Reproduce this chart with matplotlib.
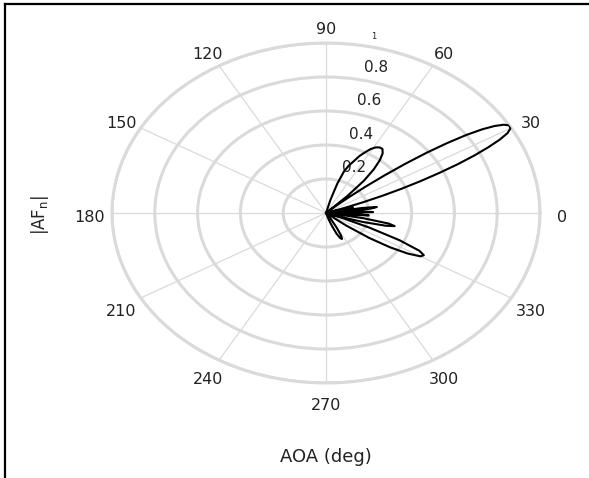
import numpy as np
import matplotlib
matplotlib.use("Agg")
import matplotlib.pyplot as plt
from matplotlib.lines import Line2D

# ---- data ----
theta_deg = [-180, -90, -76, -72, -70, -68, -66, -64, -62, -60, -58, -56, -53,
             -40, -38, -36, -34, -32, -30, -28.5, -27, -25, -23, -21, -20,
             -19, -17, -15, -13.5, -12, -10, -8, -7,
             -6, -4, -2, -1,
             0, 1.5, 3, 4,
             5.5, 7, 8.5, 10, 11.5,
             13, 14.5, 16, 17,
             18, 19, 20, 21, 22, 23, 24, 25, 26, 27, 28, 29, 30, 31, 32, 33,
             34, 35, 36, 37, 38, 39, 40, 41, 42, 43,
             45, 47, 49, 51, 53, 55, 57, 59, 61, 63, 65, 67, 69, 71, 73, 75, 76.5,
             90, 180]
af_mag = [0.0, 0.0, 0.0, 0.04, 0.08, 0.13, 0.16, 0.17, 0.15, 0.10, 0.05, 0.02, 0.0,
          0.0, 0.12, 0.25, 0.36, 0.45, 0.51, 0.52, 0.49, 0.38, 0.22, 0.08, 0.0,
          0.05, 0.18, 0.29, 0.33, 0.30, 0.18, 0.05, 0.0,
          0.10, 0.20, 0.12, 0.0,
          0.12, 0.22, 0.15, 0.0,
          0.14, 0.21, 0.24, 0.17, 0.0,
          0.10, 0.13, 0.05, 0.0,
          0.0, 0.09, 0.18, 0.28, 0.38, 0.48, 0.58, 0.68, 0.77, 0.85, 0.92, 0.97, 0.995, 1.0, 0.98, 0.94,
          0.88, 0.80, 0.70, 0.59, 0.47, 0.35, 0.24, 0.14, 0.06, 0.0,
          0.14, 0.26, 0.34, 0.40, 0.44, 0.46, 0.46, 0.45, 0.43, 0.40, 0.37, 0.33, 0.30, 0.26, 0.18, 0.08, 0.0,
          0.0, 0.0]

theta_ticks = list(range(0, 360, 30))
r_ticks = [0.2, 0.4, 0.6, 0.8, 1.0]
r_tick_labels = ["0.2", "0.4", "0.6", "0.8", "1"]

# ---- figure ----
W, H = 589, 478
fig = plt.figure(figsize=(W / 100, H / 100), dpi=100)
ax = fig.add_axes([112 / W, 95 / H, 428 / W, 340 / H], projection="polar")
ax.set_aspect("auto")

grid_c = "#dadada"
txt_c = "#222222"
ax.plot(np.deg2rad(theta_deg), af_mag, color="black", lw=1.5, zorder=5)

ax.set_ylim(0, 1)
ax.set_yticks(r_ticks)
ax.set_yticklabels([])
ax.set_xticks(np.deg2rad(theta_ticks))
ax.set_xticklabels([])
ax.xaxis.grid(True, color=grid_c, lw=0.9)
ax.yaxis.grid(True, color=grid_c, lw=2.2)
ax.spines["polar"].set_color(grid_c)
ax.spines["polar"].set_linewidth(2.2)

# angle labels placed just outside the outer ring (MATLAB style)
for t in theta_ticks:
    ax.annotate(str(t), xy=(np.deg2rad(t), 1.105), xytext=(0, -3),
                textcoords="offset points", ha="center", va="center",
                fontsize=11.5, color=txt_c, family="DejaVu Sans",
                annotation_clip=False)

for r, lab in zip(r_ticks, r_tick_labels):
    fs = 6 if lab == "1" else 11
    ax.annotate(lab, xy=(np.deg2rad(80), r), xytext=(6, 3),
                textcoords="offset points", ha="left", va="bottom",
                fontsize=fs, color=txt_c, family="DejaVu Sans", zorder=4)

fig.text(40 / W, 1 - 215 / H, r"|AF$_{\mathregular{n}}$|", rotation=90,
         ha="center", va="center", fontsize=12, color=txt_c,
         family="DejaVu Sans")
fig.text(326 / W, 1 - 457 / H, "AOA (deg)", ha="center", va="center",
         fontsize=13, color=txt_c, family="DejaVu Sans")

# border lines (left and top)
fig.add_artist(Line2D([5 / W, 5 / W], [0, 1 - 4 / H], transform=fig.transFigure,
                      color="black", lw=1.6))
fig.add_artist(Line2D([5 / W, 1], [1 - 4 / H, 1 - 4 / H], transform=fig.transFigure,
                      color="black", lw=1.6))

fig.savefig("out.png", dpi=100)
